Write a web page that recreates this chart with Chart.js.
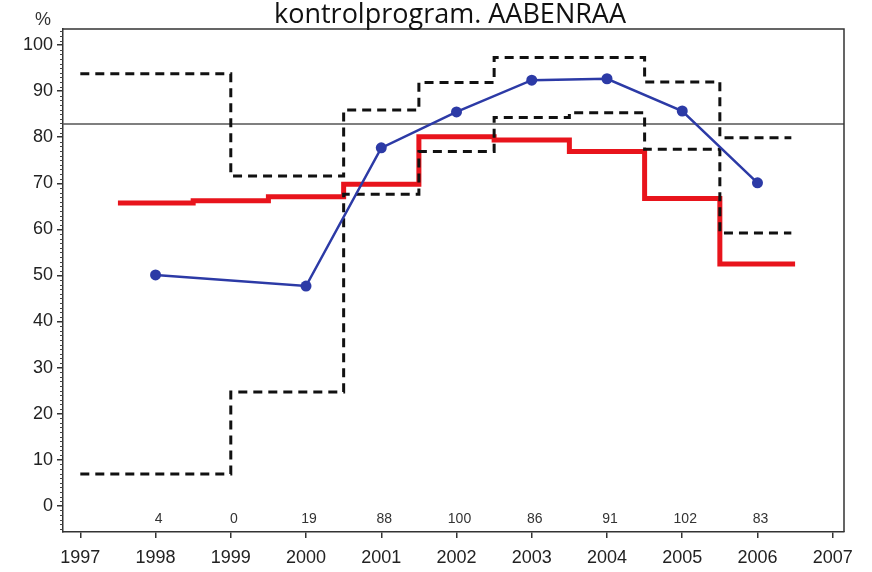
<!DOCTYPE html>
<html><head><meta charset="utf-8">
<script src="https://cdn.jsdelivr.net/npm/chart.js@4/dist/chart.umd.min.js"></script>
<style>html,body{margin:0;padding:0;background:#fff}#wrap{width:872px;height:572px}</style>
</head><body><div id="wrap"><canvas id="c" width="872" height="572"></canvas></div>
<script>
// ---- data ----
const titleText = 'kontrolprogram. AABENRAA';
const yUnit = '%';
const years = [1998, 1999, 2000, 2001, 2002, 2003, 2004, 2005, 2006];
const counts = [4, 0, 19, 88, 100, 86, 91, 102, 83];
const observed = [50.1, null, 47.7, 77.7, 85.5, 92.4, 92.7, 85.7, 70.1];
const modelEdges = [1997.5, 1998.5, 1999.5, 2000.5, 2001.5, 2002.5, 2003.5, 2004.5, 2005.5, 2006.5];
const modelValues = [65.7, 66.2, 67.1, 69.8, 80.1, 79.4, 76.9, 66.7, 52.5];
const limitEdges = [1997, 1999, 2000.5, 2001.5, 2002.5, 2003.5, 2004.5, 2005.5, 2006.45];
const upperLimit = [93.8, 71.6, 85.9, 91.9, 97.3, 97.3, 92.0, 79.9];
const lowerLimit = [6.9, 24.7, 67.6, 76.9, 84.3, 85.3, 77.4, 59.2];
const targetLevel = 82.9;
const xTickLabels = [1997, 1998, 1999, 2000, 2001, 2002, 2003, 2004, 2005, 2006, 2007];
const yTickLabels = [0, 10, 20, 30, 40, 50, 60, 70, 80, 90, 100];

// ---- helpers ----
function stepPoints(edges, vals) {
  const pts = vals.map((v, i) => ({x: edges[i], y: v}));
  pts.push({x: edges[edges.length - 1], y: vals[vals.length - 1]});
  return pts;
}
const tickFont = {family: '"Liberation Sans",Arial,sans-serif', size: 18};

const extras = {
  id: 'extras',
  beforeDatasetsDraw(chart) {
    const {ctx, chartArea: a, scales: {y}} = chart;
    const py = y.getPixelForValue(targetLevel);
    ctx.save();
    ctx.strokeStyle = '#555';
    ctx.lineWidth = 1.5;
    ctx.beginPath(); ctx.moveTo(a.left, py); ctx.lineTo(a.right, py); ctx.stroke();
    ctx.restore();
  },
  afterDraw(chart) {
    const {ctx, chartArea: a, scales: {x, y}} = chart;
    ctx.save();
    // frame top/right
    ctx.strokeStyle = '#333';
    ctx.lineWidth = 1.5;
    ctx.beginPath();
    ctx.moveTo(a.left, a.top); ctx.lineTo(a.right, a.top); ctx.lineTo(a.right, a.bottom);
    ctx.stroke();
    // minor y ticks
    ctx.strokeStyle = '#444';
    ctx.lineWidth = 1;
    for (let v = Math.ceil(y.min); v <= y.max; v++) {
      if (v % 10 === 0) continue;
      const p = Math.round(y.getPixelForValue(v)) + 0.5;
      ctx.beginPath(); ctx.moveTo(a.left - 3, p); ctx.lineTo(a.left, p); ctx.stroke();
    }
    // counts
    ctx.fillStyle = '#333';
    ctx.font = '14px "Liberation Sans", Arial, sans-serif';
    ctx.textAlign = 'center';
    ctx.textBaseline = 'middle';
    years.forEach((yr, i) => {
      ctx.fillText(String(counts[i]), x.getPixelForValue(yr) + 3, y.getPixelForValue(-2.8));
    });
    // title
    ctx.fillStyle = '#111';
    ctx.font = '27px "Open Sans", "Noto Sans", sans-serif';
    ctx.textBaseline = 'alphabetic';
    ctx.fillText(titleText, 450, 23);
    // unit
    ctx.fillStyle = '#333';
    ctx.font = '18px "Liberation Sans", Arial, sans-serif';
    ctx.fillText(yUnit, 43, 25);
    ctx.restore();
  }
};

new Chart(document.getElementById('c'), {
  type: 'line',
  data: {
    datasets: [
      {
        label: 'observed',
        data: years.map((yr, i) => ({x: yr, y: observed[i]})),
        borderColor: '#2c3aa6', backgroundColor: '#2c3aa6',
        borderWidth: 2.5, pointRadius: 5.5, pointBorderWidth: 0, pointHoverRadius: 5.5,
        spanGaps: true, tension: 0
      },
      {
        label: 'upper',
        data: stepPoints(limitEdges, upperLimit),
        stepped: 'before', borderColor: '#111', borderWidth: 3, borderDash: [9, 6],
        pointRadius: 0, fill: false
      },
      {
        label: 'lower',
        data: stepPoints(limitEdges, lowerLimit),
        stepped: 'before', borderColor: '#111', borderWidth: 3, borderDash: [9, 6],
        pointRadius: 0, fill: false
      },
      {
        label: 'model',
        data: stepPoints(modelEdges, modelValues),
        stepped: 'before', borderColor: '#e8141c', borderWidth: 5,
        pointRadius: 0, fill: false
      }
    ]
  },
  options: {
    responsive: false,
    animation: false,
    events: [],
    layout: {padding: {top: 29, right: 28, left: 0, bottom: 0}},
    plugins: {legend: {display: false}, tooltip: {enabled: false}, title: {display: false}},
    scales: {
      x: {
        type: 'linear', min: 1996.77, max: 2007.15,
        afterBuildTicks: s => { s.ticks = xTickLabels.map(v => ({value: v})); },
        afterFit: s => { s.height = 40; },
        grid: {drawOnChartArea: false, tickLength: 6, color: '#333', lineWidth: 1.5},
        border: {color: '#333', width: 1.5},
        ticks: {font: tickFont, color: '#222', padding: 9, maxRotation: 0, autoSkip: false,
                callback: v => String(v)}
      },
      y: {
        type: 'linear', min: -5.7, max: 103.5,
        afterBuildTicks: s => { s.ticks = yTickLabels.map(v => ({value: v})); },
        afterFit: s => { s.width = 63; },
        grid: {drawOnChartArea: false, tickLength: 6, color: '#333', lineWidth: 1.5},
        border: {color: '#333', width: 1.5},
        ticks: {font: tickFont, color: '#222', padding: 4, callback: v => String(v)}
      }
    }
  },
  plugins: [extras]
});
</script>
</body></html>
